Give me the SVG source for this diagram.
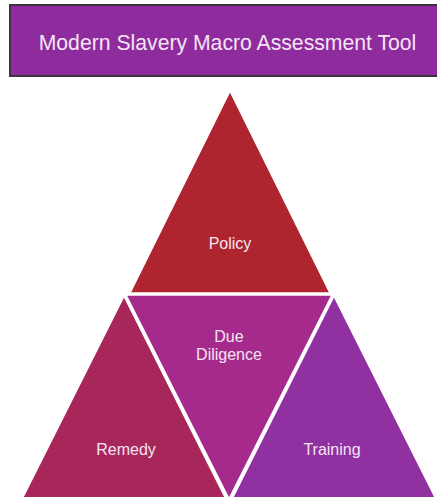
<svg xmlns="http://www.w3.org/2000/svg" width="437" height="497" viewBox="0 0 437 497">
<style>
.lbl{font-family:"Liberation Sans",Arial,sans-serif;font-size:16px;fill:#f4e4f4;text-anchor:middle}
.tri{stroke:#ffffff;stroke-width:1.6;stroke-linejoin:miter}
</style>
<rect x="0" y="0" width="437" height="497" fill="#ffffff"/>
<g id="title">
<rect x="10" y="5" width="430" height="71" fill="#8e2c9e" stroke="#3d323f" stroke-width="2"/>
<text x="227.5" y="50" class="lbl" style="font-size:21.2px">Modern Slavery Macro Assessment Tool</text>
</g>
<g id="policy">
<polygon class="tri" points="230,91 330,293 130,293" fill="#ae252f"/>
<text x="230" y="249" class="lbl">Policy</text>
</g>
<g id="due-diligence">
<polygon class="tri" points="126,295 332,295 229,499" fill="#a52a8b"/>
<text x="229" y="342" class="lbl">Due</text>
<text x="229" y="360" class="lbl">Diligence</text>
</g>
<g id="remedy">
<polygon class="tri" points="124,296 226,499 22,499" fill="#a8275a"/>
<text x="126" y="455" class="lbl">Remedy</text>
</g>
<g id="training">
<polygon class="tri" points="334,296 436,499 232,499" fill="#9130a0"/>
<text x="332" y="455" class="lbl">Training</text>
</g>
<g id="connectors"/>
</svg>
